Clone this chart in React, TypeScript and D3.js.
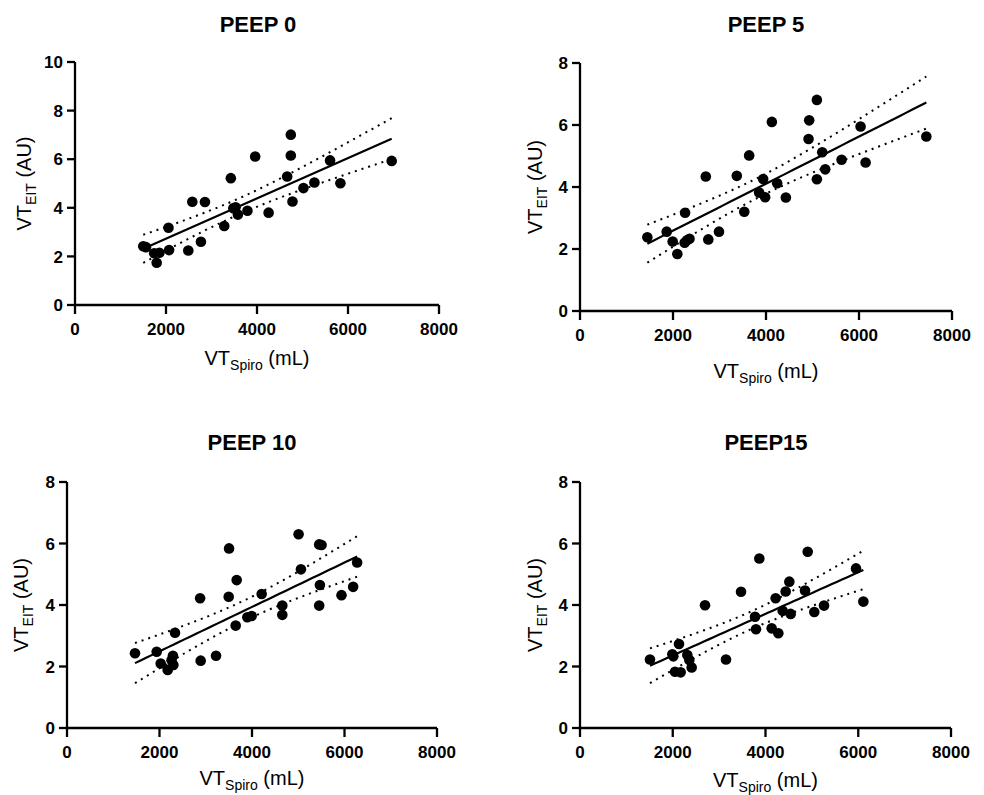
import React from 'react';
import * as d3 from 'd3';

// ---------- data ----------
const xTicks = [0, 2000, 4000, 6000, 8000];
const yTicks10 = [0, 2, 4, 6, 8, 10];
const yTicks8 = [0, 2, 4, 6, 8];
const titles = ['PEEP 0', 'PEEP 5', 'PEEP 10', 'PEEP15'];

const peep0X = [1500, 1560, 1740, 1855, 1795, 2055, 2068, 2490, 2578, 2768, 2856, 3280, 3425, 3480, 3530, 3580, 3790, 3960, 4255, 4663, 4743, 4743, 4780, 5021, 5262, 5606, 5833, 6960];
const peep0Y = [2.42, 2.38, 2.13, 2.15, 1.74, 3.18, 2.26, 2.24, 4.25, 2.60, 4.24, 3.25, 5.22, 3.98, 4.02, 3.72, 3.88, 6.11, 3.80, 5.29, 7.01, 6.15, 4.26, 4.81, 5.04, 5.95, 5.01, 5.93];

const peep5X = [1448, 1864, 1993, 2093, 2260, 2250, 2300, 2355, 2705, 2759, 2989, 3372, 3533, 3638, 3853, 3939, 3982, 4126, 4240, 4427, 4915, 4929, 5094, 5094, 5209, 5274, 5625, 6034, 6142, 7448];
const peep5Y = [2.38, 2.56, 2.24, 1.84, 3.17, 2.20, 2.28, 2.33, 4.34, 2.31, 2.56, 4.36, 3.20, 5.02, 3.82, 4.26, 3.67, 6.10, 4.12, 3.66, 5.55, 6.15, 6.81, 4.25, 5.12, 4.57, 4.88, 5.95, 4.79, 5.63];

const peep10X = [1470, 1939, 2026, 2177, 2290, 2300, 2260, 2335, 2878, 2890, 3222, 3496, 3504, 3647, 3669, 3899, 3993, 4209, 4655, 4655, 5007, 5058, 5453, 5504, 5468, 5453, 5935, 6187, 6273];
const peep10Y = [2.43, 2.48, 2.10, 1.89, 2.35, 2.05, 2.20, 3.10, 4.22, 2.19, 2.35, 4.27, 5.84, 3.33, 4.81, 3.60, 3.64, 4.36, 3.98, 3.68, 6.30, 5.16, 5.97, 5.95, 4.65, 3.98, 4.32, 4.59, 5.38];

const peep15X = [1509, 1991, 2013, 2049, 2171, 2135, 2314, 2357, 2408, 2696, 3148, 3472, 3774, 3795, 3867, 4133, 4219, 4277, 4370, 4435, 4514, 4543, 4852, 4910, 5052, 5262, 5952, 6110];
const peep15Y = [2.23, 2.40, 2.33, 1.83, 1.81, 2.73, 2.37, 2.21, 1.97, 3.99, 2.23, 4.43, 3.62, 3.21, 5.51, 3.24, 4.22, 3.08, 3.81, 4.44, 4.76, 3.71, 4.47, 5.73, 3.77, 3.98, 5.19, 4.11];

const T_CRIT = 2.056; // two-sided 95%, df ~ 26-28

// ---------- layout ----------
const panels = [
  { xs: peep0X, ys: peep0Y, yMax: 10, yTicks: yTicks10, x0: 75, x1: 439, yb: 305, yt: 62, tx: 258, ty: 32, yl: 31, xl: 365 },
  { xs: peep5X, ys: peep5Y, yMax: 8, yTicks: yTicks8, x0: 580, x1: 952, yb: 311, yt: 63, tx: 766, ty: 32, yl: 542, xl: 378 },
  { xs: peep10X, ys: peep10Y, yMax: 8, yTicks: yTicks8, x0: 67, x1: 437, yb: 728, yt: 482, tx: 252, ty: 450, yl: 28, xl: 785 },
  { xs: peep15X, ys: peep15Y, yMax: 8, yTicks: yTicks8, x0: 580, x1: 951, yb: 728, yt: 482, tx: 766, ty: 450, yl: 542, xl: 787 },
];

const FONT = '"Liberation Sans", Arial, Helvetica, sans-serif';

function fit(xs: number[], ys: number[]) {
  const n = xs.length;
  const mx = d3.mean(xs) as number;
  const my = d3.mean(ys) as number;
  let sxx = 0, sxy = 0;
  for (let i = 0; i < n; i++) {
    sxx += (xs[i] - mx) ** 2;
    sxy += (xs[i] - mx) * (ys[i] - my);
  }
  const b = sxy / sxx;
  const a = my - b * mx;
  let sse = 0;
  for (let i = 0; i < n; i++) sse += (ys[i] - a - b * xs[i]) ** 2;
  const s = Math.sqrt(sse / (n - 2));
  const band = (x: number) => T_CRIT * s * Math.sqrt(1 / n + (x - mx) ** 2 / sxx);
  return { a, b, band };
}

function Panel({ p, title }: { p: typeof panels[0]; title: string }) {
  const x = d3.scaleLinear().domain([0, 8000]).range([p.x0, p.x1]);
  const y = d3.scaleLinear().domain([0, p.yMax]).range([p.yb, p.yt]);
  const { a, b, band } = fit(p.xs, p.ys);
  const [xmin, xmax] = d3.extent(p.xs) as [number, number];
  const samples = d3.range(0, 41).map((i) => xmin + ((xmax - xmin) * i) / 40);
  const fitPath = d3.line<number>().x((v) => x(v)).y((v) => y(a + b * v))(samples) as string;
  const upPath = d3.line<number>().x((v) => x(v)).y((v) => y(a + b * v + band(v)))(samples) as string;
  const loPath = d3.line<number>().x((v) => x(v)).y((v) => y(a + b * v - band(v)))(samples) as string;
  const midY = (p.yb + p.yt) / 2;
  const midX = (p.x0 + p.x1) / 2;
  return (
    <g>
      <text x={p.tx} y={p.ty} textAnchor="middle" fontFamily={FONT} fontWeight="bold" fontSize={22}>{title}</text>
      {/* axes */}
      <line x1={p.x0} x2={p.x0} y1={p.yb} y2={p.yt} stroke="#000" strokeWidth={2.3} />
      <line x1={p.x0} x2={p.x1} y1={p.yb} y2={p.yb} stroke="#000" strokeWidth={2.3} />
      {p.yTicks.map((t) => (
        <g key={'y' + t}>
          <line x1={p.x0 - 8} x2={p.x0} y1={y(t)} y2={y(t)} stroke="#000" strokeWidth={2.3} />
          <text x={p.x0 - 12} y={y(t)} dy="0.36em" textAnchor="end" fontFamily={FONT} fontWeight="bold" fontSize={17}>{t}</text>
        </g>
      ))}
      {xTicks.map((t) => (
        <g key={'x' + t}>
          <line x1={x(t)} x2={x(t)} y1={p.yb} y2={p.yb + 9} stroke="#000" strokeWidth={2.3} />
          <text x={x(t)} y={p.yb + 30} textAnchor="middle" fontFamily={FONT} fontWeight="bold" fontSize={17}>{t}</text>
        </g>
      ))}
      {/* axis labels */}
      <text x={midX} y={p.xl} textAnchor="middle" fontFamily={FONT} fontSize={20}>
        VT<tspan fontSize={14} dy={5}>Spiro</tspan><tspan dy={-5}> (mL)</tspan>
      </text>
      <text transform={`translate(${p.yl},${midY}) rotate(-90)`} textAnchor="middle" fontFamily={FONT} fontSize={20}>
        VT<tspan fontSize={14} dy={5}>EIT</tspan><tspan dy={-5}> (AU)</tspan>
      </text>
      {/* fit + bands */}
      <path d={upPath} fill="none" stroke="#000" strokeWidth={2} strokeDasharray="2 5" />
      <path d={loPath} fill="none" stroke="#000" strokeWidth={2} strokeDasharray="2 5" />
      {p.xs.map((v, i) => (
        <circle key={i} cx={x(v)} cy={y(p.ys[i])} r={5.3} fill="#000" />
      ))}
      <path d={fitPath} fill="none" stroke="#000" strokeWidth={2.2} />
    </g>
  );
}

export default function App() {
  return (
    <svg width={984} height={795} style={{ position: 'absolute', left: 0, top: 0, background: '#fff' }}>
      <rect width={984} height={795} fill="#fff" />
      {panels.map((p, i) => (
        <Panel key={i} p={p} title={titles[i]} />
      ))}
    </svg>
  );
}
